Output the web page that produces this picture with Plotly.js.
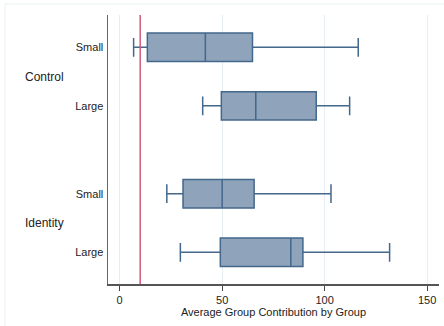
<!DOCTYPE html>
<html>
<head>
<meta charset="utf-8">
<script src="https://cdn.plot.ly/plotly-3.0.1.min.js"></script>
<style>html,body{margin:0;padding:0;background:#fff;}#chart{width:444px;height:326px;}</style>
</head>
<body>
<div id="chart"></div>
<script>
// Data
var groups = ["Control", "Identity"];
var sizes = ["Small", "Large", "Small", "Large"];
var groupOf = ["Control", "Control", "Identity", "Identity"];
var positions = [0, 1, 2.5, 3.5];
var lowerWhisker = [6.8, 40.5, 23.0, 29.6];
var q1Values = [13.5, 49.6, 30.9, 49.1];
var medianValues = [41.8, 66.4, 50.0, 83.5];
var q3Values = [64.8, 95.9, 65.6, 89.4];
var upperWhisker = [116.4, 112.2, 103.1, 131.7];
var referenceLine = 10;
var xTicks = [0, 50, 100, 150];

var font = "Liberation Sans, Arial, Helvetica, sans-serif";

var trace = {
  type: "box",
  orientation: "h",
  y: positions,
  q1: q1Values,
  median: medianValues,
  q3: q3Values,
  lowerfence: lowerWhisker,
  upperfence: upperWhisker,
  width: 0.485,
  whiskerwidth: 0.66,
  fillcolor: "#8fa4bb",
  line: {color: "#44678c", width: 1.5},
  boxpoints: false,
  hoverinfo: "skip",
  showlegend: false
};

var groupPos = groups.map(function (g) {
  var p = positions.filter(function (_, i) { return groupOf[i] === g; });
  return (p[0] + p[p.length - 1]) / 2;
});

var annotations = groups.map(function (g, i) {
  return {
    text: g, xref: "paper", yref: "y", x: -0.257, y: groupPos[i],
    xanchor: "left", yanchor: "middle", showarrow: false,
    font: {family: font, size: 12, color: "#222"}
  };
});

var layout = {
  width: 444, height: 326,
  margin: {l: 108, r: 5, t: 15, b: 42},
  paper_bgcolor: "#fff", plot_bgcolor: "#fff",
  font: {family: font, size: 11, color: "#222"},
  xaxis: {
    range: [-5.7, 155.8], autorange: false,
    tickvals: xTicks, ticktext: xTicks.map(String),
    ticks: "outside", ticklen: 5, tickwidth: 1, tickcolor: "#444",
    showline: true, linecolor: "#555", linewidth: 1.5,
    showgrid: true, gridcolor: "#e6eef1", gridwidth: 1,
    zeroline: false,
    tickfont: {family: font, size: 11, color: "#222"},
    title: {text: "Average Group Contribution by Group", font: {family: font, size: 11, color: "#222"}, standoff: 2}
  },
  yaxis: {
    range: [4.041, -0.551], autorange: false,
    tickvals: positions, ticktext: sizes,
    ticks: "", showline: true, linecolor: "#666", linewidth: 1.5,
    showgrid: false, zeroline: false,
    ticklabelstandoff: 1,
    tickfont: {family: font, size: 11, color: "#222"}
  },
  shapes: [
    {type: "line", xref: "x", yref: "paper", x0: referenceLine, x1: referenceLine, y0: 0, y1: 1,
     line: {color: "#d4587a", width: 1.5}},
    {type: "line", xref: "paper", yref: "paper", x0: -0.311, x1: 1.05, y0: 1.041, y1: 1.041,
     line: {color: "#eaf0f2", width: 1}},
    {type: "line", xref: "paper", yref: "paper", x0: -0.311, x1: -0.311, y0: -0.2, y1: 1.041,
     line: {color: "#eaf0f2", width: 1}}
  ],
  annotations: annotations
};

Plotly.newPlot("chart", [trace], layout, {displayModeBar: false, staticPlot: true});
</script>
</body>
</html>
